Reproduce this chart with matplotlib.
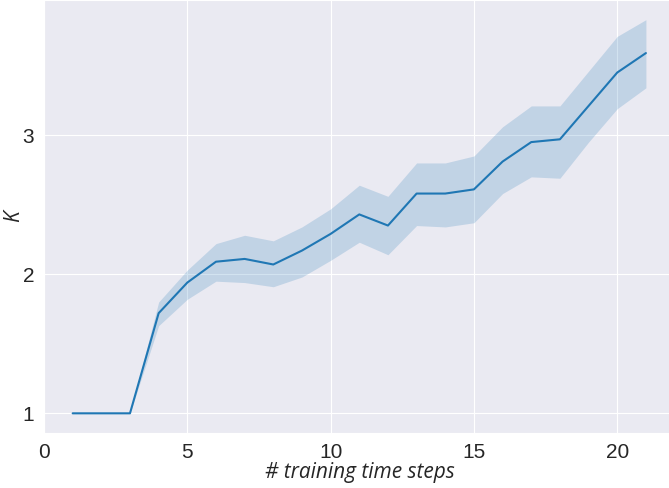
import matplotlib
matplotlib.use("Agg")
import matplotlib.pyplot as plt
import seaborn as sns

steps = list(range(1, 22))
k_mean = [1.0, 1.0, 1.0, 1.72, 1.94, 2.09, 2.11, 2.07, 2.17, 2.29, 2.43,
          2.35, 2.58, 2.58, 2.61, 2.81, 2.95, 2.97, 3.21, 3.45, 3.59]
k_upper = [1.0, 1.0, 1.0, 1.80, 2.03, 2.22, 2.28, 2.24, 2.34, 2.47, 2.64,
           2.56, 2.80, 2.80, 2.85, 3.06, 3.21, 3.21, 3.46, 3.71, 3.83]
k_lower = [1.0, 1.0, 1.0, 1.63, 1.82, 1.95, 1.94, 1.91, 1.98, 2.10, 2.23,
           2.14, 2.35, 2.34, 2.37, 2.58, 2.70, 2.69, 2.95, 3.19, 3.34]

sns.set_style("darkgrid")
plt.rcParams["font.family"] = ["Liberation Sans", "DejaVu Sans"]

fig = plt.figure(figsize=(6.69, 4.88), dpi=100)
# axes runs past the right edge, as in the original
ax = fig.add_axes([44 / 669, 55 / 488, 632 / 669, 433 / 488])

ax.plot(steps, k_mean, color="#1f77b4", lw=1.5)
ax.fill_between(steps, k_lower, k_upper, color="#1f77b4", alpha=0.2, lw=0)

ax.set_xlim(0, 22.05)
ax.set_ylim(0.8585, 3.9715)
ax.set_xticks([0, 5, 10, 15, 20])
ax.set_yticks([1, 2, 3])
ax.tick_params(labelsize=15, colors="#262626")

label_font = dict(family=["Open Sans", "DejaVu Sans"], style="italic", fontsize=15)
ax.set_xlabel("# training time steps", labelpad=0, **label_font)
ax.set_ylabel("K", **label_font)
ax.yaxis.set_label_coords(-0.032, 0.5)

fig.savefig("out.png", dpi=100)
